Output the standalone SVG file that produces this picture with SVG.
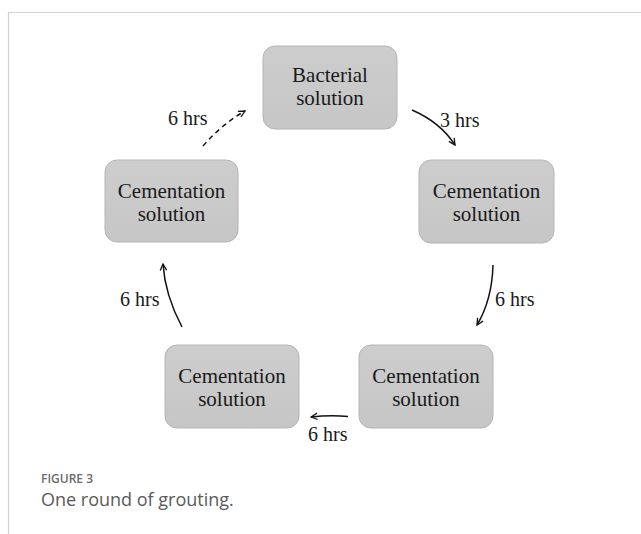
<svg xmlns="http://www.w3.org/2000/svg" width="641" height="534" viewBox="0 0 641 534">
<defs>
<linearGradient id="g" x1="0" y1="0" x2="0" y2="1">
<stop offset="0" stop-color="#cdcdcd"/>
<stop offset="1" stop-color="#c6c6c6"/>
</linearGradient>
<marker id="ah" viewBox="0 0 10 10" refX="9" refY="5" markerWidth="8" markerHeight="8" markerUnits="userSpaceOnUse" orient="auto">
<path d="M1,1 L9,5 L1,9" fill="none" stroke="#111" stroke-width="1.6"/>
</marker>
</defs>
<style>
.box{fill:url(#g);stroke:#b5b5b5;stroke-width:1}
.t{font-family:"Liberation Serif","Times New Roman",serif;font-size:21px;fill:#1a1a1a;text-anchor:middle}
.l{font-family:"Liberation Serif","Times New Roman",serif;font-size:20px;fill:#1a1a1a}
.c{fill:none;stroke:#111;stroke-width:1.5;marker-end:url(#ah)}
</style>
<rect width="641" height="534" fill="#fff"/>
<path d="M8.5,534 V12.5 H641" fill="none" stroke="#cfcfcf" stroke-width="1.2"/>
<g id="n1"><rect class="box" x="263" y="46" width="134" height="83" rx="12"/><text class="t" x="330" y="82">Bacterial</text><text class="t" x="330" y="105">solution</text></g>
<g id="n2"><rect class="box" x="419" y="160" width="135" height="83" rx="12"/><text class="t" x="486.5" y="198">Cementation</text><text class="t" x="486.5" y="221">solution</text></g>
<g id="n3"><rect class="box" x="359" y="345" width="134" height="83" rx="12"/><text class="t" x="426" y="383">Cementation</text><text class="t" x="426" y="406">solution</text></g>
<g id="n4"><rect class="box" x="165" y="345" width="134" height="83" rx="12"/><text class="t" x="232" y="383">Cementation</text><text class="t" x="232" y="406">solution</text></g>
<g id="n5"><rect class="box" x="105" y="160" width="133" height="82" rx="12"/><text class="t" x="171.5" y="198">Cementation</text><text class="t" x="171.5" y="221">solution</text></g>
<g id="connectors">
<path class="c" d="M412,110 Q440,122 455,145"/>
<path class="c" d="M493,265 Q492,300 477,325"/>
<path class="c" d="M348,416.5 Q330,415 311,417"/>
<path class="c" d="M182,327 Q165,295 163,264"/>
<path class="c" stroke-dasharray="5,4" d="M203,146 Q222,124 245,111"/>
<text class="l" x="440" y="127">3 hrs</text>
<text class="l" x="495" y="306">6 hrs</text>
<text class="l" x="308" y="441">6 hrs</text>
<text class="l" x="120" y="306">6 hrs</text>
<text class="l" x="168" y="125">6 hrs</text>
</g>
<text x="41" y="483" font-family="'Open Sans','Noto Sans',sans-serif" font-size="12" font-weight="600" fill="#6a6a6a">FIGURE 3</text>
<text x="41" y="506" font-family="'Open Sans','Noto Sans',sans-serif" font-size="18" fill="#5a5a5a">One round of grouting.</text>
</svg>
